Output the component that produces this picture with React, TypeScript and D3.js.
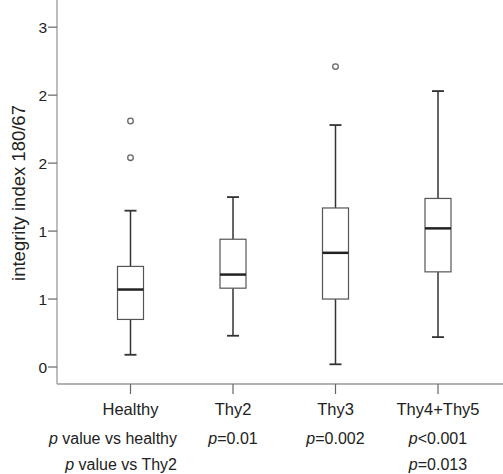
import React from "react";
import * as d3 from "d3";

const categories = ["Healthy", "Thy2", "Thy3", "Thy4+Thy5"];
const whiskerLow = [0.09, 0.23, 0.02, 0.22];
const q1 = [0.35, 0.58, 0.5, 0.7];
const median = [0.57, 0.68, 0.84, 1.02];
const q3 = [0.74, 0.94, 1.17, 1.24];
const whiskerHigh = [1.15, 1.25, 1.78, 2.03];
const outliers = [[1.81, 1.54], [], [2.21], []];
const yTickValues = [0, 0.5, 1, 1.5, 2, 2.5];
const yTickLabels = ["0", "1", "1", "2", "2", "3"];
const pVsHealthy = ["", "=0.01", "=0.002", "<0.001"];
const pVsThy2 = ["", "", "", "=0.013"];
const rowLabels = ["value vs healthy", "value vs Thy2"];
const yTitle = "integrity index 180/67";

const W = 503;
const H = 474;
const FONT = "'Liberation Sans', Arial, sans-serif";

export default function App() {
  const axisX = 57;
  const axisY = 384;
  const y = d3.scaleLinear().domain([-0.125, 2.7]).range([axisY, 0]);
  const x = d3.scalePoint<string>().domain(categories).range([130.5, 438]);
  const boxW = 26;
  const capW = 12;

  return (
    <svg
      width={W}
      height={H}
      style={{ position: "absolute", left: 0, top: 0, background: "#fff" }}
      fontFamily={FONT}
    >
      <rect width={W} height={H} fill="#fff" />
      <line x1={axisX} x2={axisX} y1={0} y2={axisY} stroke="#999" strokeWidth={1.3} />
      <line x1={axisX} x2={W} y1={axisY} y2={axisY} stroke="#999" strokeWidth={1.3} />
      {yTickValues.map((v, i) => (
        <g key={"yt" + i}>
          <line x1={axisX - 9} x2={axisX} y1={y(v)} y2={y(v)} stroke="#666" strokeWidth={1.2} />
          <text x={axisX - 10} y={y(v)} dy="0.36em" textAnchor="end" fontSize={15.5} fill="#222">
            {yTickLabels[i]}
          </text>
        </g>
      ))}
      <text
        transform={`translate(25,193) rotate(-90)`}
        textAnchor="middle"
        fontSize={18.5}
        fill="#222"
      >
        {yTitle}
      </text>
      {categories.map((c, i) => {
        const cx = x(c)!;
        return (
          <g key={c}>
            <line x1={cx} x2={cx} y1={axisY} y2={axisY + 10} stroke="#666" strokeWidth={1.2} />
            <text x={cx} y={415} textAnchor="middle" fontSize={16.5} fill="#222">
              {c}
            </text>
            {pVsHealthy[i] && (
              <text x={cx} y={444} textAnchor="middle" fontSize={16} fill="#222">
                <tspan fontStyle="italic">p</tspan>
                {pVsHealthy[i]}
              </text>
            )}
            {pVsThy2[i] && (
              <text x={cx} y={470} textAnchor="middle" fontSize={16} fill="#222">
                <tspan fontStyle="italic">p</tspan>
                {pVsThy2[i]}
              </text>
            )}
            <line x1={cx} x2={cx} y1={y(whiskerHigh[i])} y2={y(q3[i])} stroke="#333" strokeWidth={1.5} />
            <line x1={cx} x2={cx} y1={y(q1[i])} y2={y(whiskerLow[i])} stroke="#333" strokeWidth={1.5} />
            <line x1={cx - capW / 2} x2={cx + capW / 2} y1={y(whiskerHigh[i])} y2={y(whiskerHigh[i])} stroke="#333" strokeWidth={1.8} />
            <line x1={cx - capW / 2} x2={cx + capW / 2} y1={y(whiskerLow[i])} y2={y(whiskerLow[i])} stroke="#333" strokeWidth={1.8} />
            <rect
              x={cx - boxW / 2}
              y={y(q3[i])}
              width={boxW}
              height={y(q1[i]) - y(q3[i])}
              fill="#fff"
              stroke="#555"
              strokeWidth={1.2}
            />
            <line x1={cx - boxW / 2} x2={cx + boxW / 2} y1={y(median[i])} y2={y(median[i])} stroke="#222" strokeWidth={2.5} />
            {outliers[i].map((o, j) => (
              <circle key={j} cx={cx} cy={y(o)} r={2.8} fill="none" stroke="#666" strokeWidth={1.3} />
            ))}
          </g>
        );
      })}
      <text x={177} y={444} textAnchor="end" fontSize={16} fill="#222">
        <tspan fontStyle="italic">p</tspan> {rowLabels[0]}
      </text>
      <text x={177} y={470} textAnchor="end" fontSize={16} fill="#222">
        <tspan fontStyle="italic">p</tspan> {rowLabels[1]}
      </text>
    </svg>
  );
}
